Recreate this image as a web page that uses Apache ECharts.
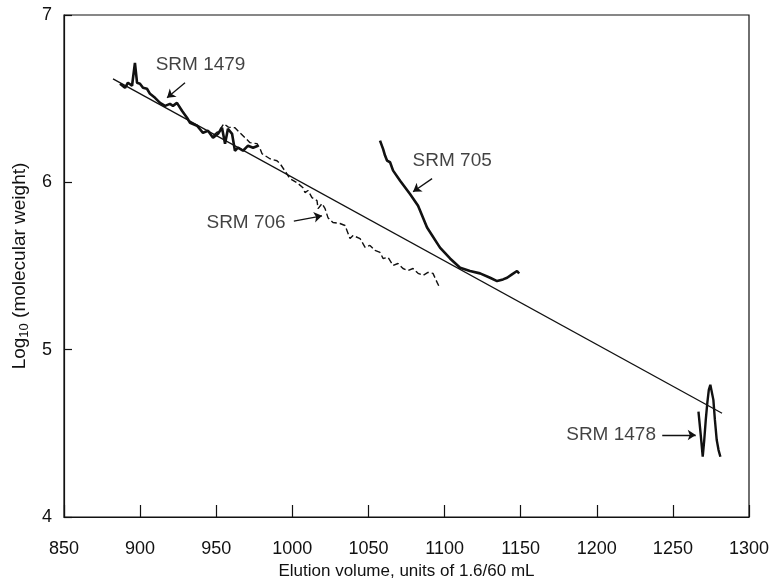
<!DOCTYPE html>
<html>
<head>
<meta charset="utf-8">
<script src="https://cdn.jsdelivr.net/npm/echarts@6/dist/echarts.min.js"></script>
<style>html,body{margin:0;padding:0;background:#fff}#c{width:770px;height:580px}</style>
</head>
<body>
<div id="c"></div>
<script>
// ---- data (x = elution volume, y = log10 MW) ----
const fitLine = [[882.2, 6.618], [1282.3, 4.62]];
const srm1479 = [[886.8,6.589],[890.1,6.565],[892.0,6.595],[894.7,6.577],[896.6,6.714],[898.0,6.595],[899.9,6.589],[901.9,6.565],[904.5,6.559],[906.5,6.529],[909.8,6.505],[913.1,6.475],[916.4,6.457],[919.6,6.469],[921.6,6.457],[924.2,6.475],[927.5,6.428],[930.8,6.386],[932.8,6.356],[937.4,6.338],[941.3,6.296],[944.6,6.308],[947.9,6.267],[951.2,6.290],[953.8,6.326],[955.8,6.231],[957.7,6.320],[960.4,6.290],[962.3,6.189],[964.3,6.207],[967.6,6.189],[970.9,6.219],[974.2,6.207],[977.5,6.219]];
const srm706 = [[948,6.28],[952,6.31],[955,6.35],[958,6.33],[962.3,6.326],[965.6,6.296],[968.9,6.267],[972.2,6.237],[976.8,6.231],[978.8,6.201],[980.1,6.171],[985.3,6.141],[989.9,6.129],[991.9,6.112],[995,6.07],[998.5,6.022],[1003.1,5.998],[1007.0,5.968],[1008.3,5.939],[1010.3,5.951],[1012.9,5.909],[1016.2,5.891],[1016.9,5.843],[1019.5,5.873],[1021.5,5.843],[1023.4,5.789],[1026.7,5.760],[1031.3,5.754],[1034.6,5.742],[1037.9,5.664],[1039.9,5.682],[1044.5,5.664],[1047.8,5.611],[1051.0,5.623],[1054.3,5.593],[1057.6,5.581],[1059.6,5.545],[1062.9,5.551],[1066.2,5.503],[1069.4,5.515],[1072.7,5.485],[1076.0,5.473],[1079.3,5.485],[1082.6,5.456],[1085.9,5.444],[1089.1,5.462],[1092.4,5.456],[1095.1,5.402],[1097.0,5.366]];
const srm705 = [[1057.6,6.249],[1059.6,6.20],[1060.9,6.16],[1062.2,6.13],[1064.2,6.12],[1066.2,6.07],[1070.8,6.01],[1077.3,5.93],[1082.6,5.86],[1088.5,5.73],[1097.0,5.61],[1103.6,5.545],[1110.2,5.49],[1116.7,5.47],[1123.3,5.456],[1129.9,5.43],[1134.5,5.41],[1138.4,5.42],[1141.1,5.43],[1144.3,5.45],[1147.6,5.47],[1149.0,5.455]];
const srm1478 = [[1266.8,4.63],[1268.2,4.50],[1269.6,4.36],[1270.6,4.46],[1271.6,4.58],[1272.6,4.68],[1273.6,4.76],[1274.6,4.79],[1275.6,4.78],[1276.6,4.70],[1277.6,4.58],[1278.8,4.46],[1280.0,4.40],[1281.2,4.36]];
const labelNames = ['SRM 1479', 'SRM 705', 'SRM 706', 'SRM 1478'];
const labelPos = [[939.7, 6.70], [1105.0, 6.13], [969.6, 5.76], [1209.4, 4.49]];
const arrows = [
  [[929.5, 6.595], [917.7, 6.505]],
  [[1091.8, 6.022], [1079.3, 5.944]],
  [[1001.0, 5.768], [1019.5, 5.80]],
  [[1243.0, 4.49], [1265.0, 4.49]]
];
const xMin = 850, xMax = 1300, xStep = 50;
const yMin = 4, yMax = 7, yStep = 1;

const FONT = "'Liberation Sans', Arial, Helvetica, sans-serif";
const ink = '#111';
const chart = echarts.init(document.getElementById('c'), null, {renderer: 'canvas'});
const lineSeries = (name, data, width, type) => ({
  name, type: 'line', data, showSymbol: false, symbol: 'none', smooth: false,
  lineStyle: {color: ink, width, type: type || 'solid'}, silent: true, z: 3
});
chart.setOption({
  animation: false,
  backgroundColor: '#fff',
  grid: {left: 64, right: 21, top: 15, bottom: 63, show: true, borderColor: ink, borderWidth: 1.2,
         containLabel: false, outerBoundsMode: 'none'},
  xAxis: {
    type: 'value', min: xMin, max: xMax, interval: xStep,
    name: 'Elution volume, units of 1.6/60 mL', nameLocation: 'middle', nameGap: 42,
    nameTextStyle: {fontFamily: FONT, fontSize: 17, color: ink},
    axisLine: {lineStyle: {color: ink, width: 1.2}},
    axisTick: {inside: true, length: 12, lineStyle: {color: ink, width: 1.2}},
    axisLabel: {fontFamily: FONT, fontSize: 18, color: ink, margin: 23, formatter: v => String(v)},
    splitLine: {show: false}
  },
  yAxis: {
    type: 'value', min: yMin, max: yMax, interval: yStep,
    name: 'Log{sub|10} (molecular weight)', nameLocation: 'middle', nameGap: 28,
    nameTextStyle: {fontFamily: FONT, fontSize: 19, color: ink,
      rich: {sub: {fontFamily: FONT, fontSize: 13, color: ink, verticalAlign: 'bottom', padding: [10, 0, 0, 0]}}},
    axisLine: {lineStyle: {color: ink, width: 1.2}},
    axisTick: {inside: true, length: 8, lineStyle: {color: ink, width: 1.2}},
    axisLabel: {fontFamily: FONT, fontSize: 18, color: ink, margin: 12, formatter: v => String(v)},
    splitLine: {show: false}
  },
  series: [
    lineSeries('fit', fitLine, 1.3),
    lineSeries('SRM 706', srm706, 1.4, [6, 3]),
    lineSeries('SRM 1479', srm1479, 2.6),
    lineSeries('SRM 705', srm705, 2.6),
    lineSeries('SRM 1478', srm1478, 2.4),
    {
      type: 'lines', coordinateSystem: 'cartesian2d', silent: true, z: 4,
      symbol: ['none', 'arrow'], symbolSize: [0, 8],
      lineStyle: {color: ink, width: 1.3, opacity: 1},
      data: arrows.map(a => ({coords: a}))
    },
    {
      type: 'scatter', symbolSize: 0, silent: true, z: 5,
      data: labelPos.map((p, i) => ({value: p, name: labelNames[i]})),
      label: {show: true, position: 'inside', formatter: p => p.name,
        fontFamily: FONT, fontSize: 19, color: ink}
    }
  ]
});
</script>
</body>
</html>
